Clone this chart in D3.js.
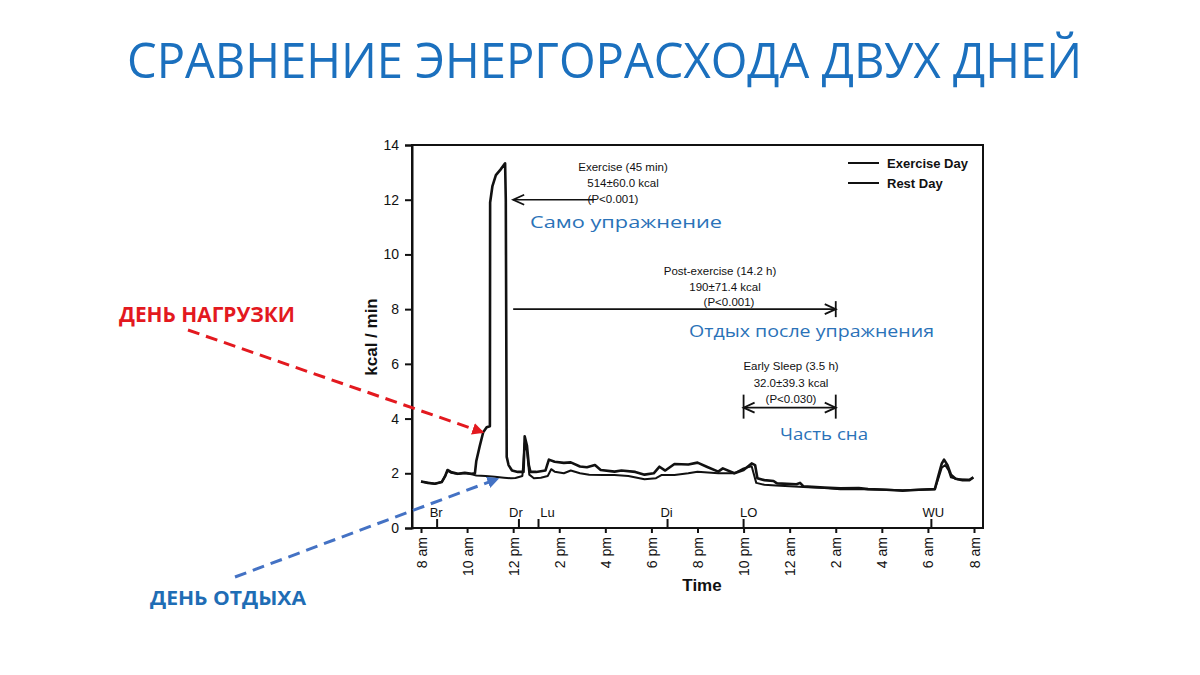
<!DOCTYPE html>
<html>
<head>
<meta charset="utf-8">
<script src="https://cdn.jsdelivr.net/npm/d3@7"></script>
<style>
  html, body { margin: 0; padding: 0; background: #ffffff; }
  svg { display: block; }
</style>
</head>
<body>
<svg id="chart" width="1200" height="675"></svg>
<script>
// ---------------- DATA ----------------
const titleText = "СРАВНЕНИЕ ЭНЕРГОРАСХОДА ДВУХ ДНЕЙ";
const yTicks = [0, 2, 4, 6, 8, 10, 12, 14];
const xTickHours = [0, 2, 4, 6, 8, 10, 12, 14, 16, 18, 20, 22, 24];
const xTickLabels = ["8 am", "10 am", "12 pm", "2 pm", "4 pm", "6 pm", "8 pm", "10 pm", "12 am", "2 am", "4 am", "6 am", "8 am"];
const yAxisTitle = "kcal / min";
const xAxisTitle = "Time";

// hours since 8 am
const exerciseHours = [0.0, 0.3, 0.6, 0.9, 1.05, 1.15, 1.3, 1.6, 1.9, 2.2, 2.34, 2.4, 2.55, 2.7, 2.85, 2.99,
  3.0, 3.1, 3.25, 3.45, 3.65, 3.68, 3.72, 3.8, 3.95, 4.2, 4.45, 4.5, 4.6, 4.68, 4.75, 5.0, 5.4, 5.55,
  5.8, 6.2, 6.5, 6.9, 7.2, 7.55, 7.8, 8.4, 8.7, 9.3, 9.7, 10.1, 10.35, 10.6, 11.0, 11.6, 12.0, 12.4,
  12.9, 13.1, 13.6, 14.0, 14.35, 14.5, 14.6, 14.9, 15.3, 15.45, 16.3, 16.45, 16.6, 17.5, 18.2, 19.0,
  19.4, 20.2, 20.9, 21.6, 22.3, 22.45, 22.6, 22.7, 22.85, 23.0, 23.2, 23.5, 23.8, 23.97];
const exerciseKcal = [1.70, 1.65, 1.62, 1.68, 1.90, 2.12, 2.05, 1.98, 2.02, 1.98, 2.00, 2.45, 3.00, 3.50, 3.68, 3.72,
  11.9, 12.5, 12.9, 13.1, 13.33, 12.0, 2.6, 2.3, 2.1, 2.05, 2.05, 3.35, 3.0, 2.3, 2.05, 2.05, 2.1, 2.5,
  2.42, 2.38, 2.40, 2.25, 2.22, 2.30, 2.12, 2.06, 2.10, 2.05, 1.95, 2.00, 2.24, 2.10, 2.34, 2.32, 2.39, 2.24,
  2.06, 2.18, 2.00, 2.12, 2.36, 2.30, 1.82, 1.75, 1.72, 1.63, 1.60, 1.65, 1.52, 1.48, 1.45, 1.46,
  1.42, 1.40, 1.36, 1.40, 1.42, 1.90, 2.35, 2.50, 2.30, 1.95, 1.80, 1.75, 1.75, 1.85];

const restHours = [0.0, 0.3, 0.6, 0.9, 1.05, 1.15, 1.3, 1.6, 1.9, 2.2, 2.4, 2.8, 3.2, 3.6, 3.9, 4.1, 4.4, 4.5,
  4.6, 4.7, 4.9, 5.2, 5.5, 5.65, 5.8, 6.2, 6.5, 6.9, 7.3, 7.9, 8.4, 9.0, 9.7, 10.2, 10.45, 11.0, 11.6,
  12.0, 12.9, 13.6, 14.0, 14.35, 14.55, 14.9, 15.4, 16.0, 16.6, 17.5, 18.2, 19.4, 20.9, 22.3, 22.45,
  22.6, 22.75, 22.9, 23.0, 23.3, 23.8, 23.97];
const restKcal = [1.70, 1.65, 1.62, 1.68, 1.90, 2.10, 2.02, 1.97, 2.00, 1.96, 1.92, 1.90, 1.87, 1.84, 1.82, 1.83, 1.90, 3.10,
  2.80, 1.95, 1.82, 1.84, 1.90, 2.15, 2.06, 2.00, 2.10, 2.00, 1.95, 1.94, 1.94, 1.90, 1.78, 1.82, 1.94, 1.94, 2.00,
  2.06, 2.00, 2.00, 2.18, 2.26, 1.65, 1.58, 1.55, 1.53, 1.50, 1.46, 1.42, 1.42, 1.38, 1.42, 1.80,
  2.20, 2.30, 2.10, 1.85, 1.78, 1.76, 1.85];

const seriesNames = ["Exercise Day", "Rest Day"];

const eventLabels = ["Br", "Dr", "Lu", "Di", "LO", "WU"];
const eventHours = [0.7, 4.25, 5.1, 10.7, 14.0, 22.15];

const annoLines = [
  ["Exercise (45 min)", "514±60.0 kcal", "(P<0.001)"],
  ["Post-exercise (14.2 h)", "190±71.4 kcal", "(P<0.001)"],
  ["Early Sleep (3.5 h)", "32.0±39.3 kcal", "(P<0.030)"]
];
const annoStartHour = [4.0, 4.0, 14.0];
const annoEndHour = [7.5, 18.0, 18.0];
const annoValue = [12, 8, 4.4];

const ruLabels = ["Само упражнение", "Отдых после упражнения", "Часть сна"];
const dayLabels = ["ДЕНЬ НАГРУЗКИ", "ДЕНЬ ОТДЫХА"];

// ---------------- DRAW ----------------
(function () {
const svg = d3.select("#chart");
const W = 1200, H = 675;
svg.append("rect").attr("width", W).attr("height", H).attr("fill", "#fff");

const pLeft = 412, pRight = 983, pTop = 145, pBottom = 528;
const x = d3.scaleLinear().domain([0, 24]).range([421, 974]);
const y = d3.scaleLinear().domain([0, 14]).range([pBottom, pTop]);

const chartFont = "'Liberation Sans', Arial, sans-serif";
const ruFont = "'Open Sans', 'Noto Sans', sans-serif";
const blue = "#2a72b8";

// defs
const defs = svg.append("defs");
function marker(id, color) {
  defs.append("marker").attr("id", id).attr("viewBox", "0 0 10 10")
    .attr("refX", 8).attr("refY", 5).attr("markerWidth", 4).attr("markerHeight", 4)
    .attr("orient", "auto-start-reverse").attr("markerUnits", "strokeWidth")
    .append("path").attr("d", "M0,0 L10,5 L0,10 Z").attr("fill", color);
}
marker("redHead", "#e3191f");
marker("blueHead", "#4472c4");

// Title
svg.append("text").attr("x", 127).attr("y", 78)
  .attr("font-family", ruFont).attr("font-size", 50).attr("fill", "#1b70be")
  .attr("textLength", 955).attr("lengthAdjust", "spacingAndGlyphs")
  .text(titleText);

// Frame
const g = svg.append("g");
g.append("rect").attr("x", pLeft).attr("y", pTop).attr("width", pRight - pLeft).attr("height", pBottom - pTop)
  .attr("fill", "none").attr("stroke", "#111").attr("stroke-width", 2);

// Y axis
const yAxis = d3.axisLeft(y).tickValues(yTicks).tickSize(7).tickPadding(6);
const yg = g.append("g").attr("transform", `translate(${pLeft},0)`).call(yAxis);
yg.select(".domain").attr("stroke", "#111").attr("stroke-width", 2);
yg.selectAll(".tick line").attr("stroke", "#111").attr("stroke-width", 2);
yg.selectAll(".tick text").attr("font-family", chartFont).attr("font-size", 14).attr("fill", "#111");

// X axis
const xAxis = d3.axisBottom(x).tickValues(xTickHours).tickSize(5).tickFormat((d, i) => xTickLabels[i]);
const xg = g.append("g").attr("transform", `translate(0,${pBottom})`).call(xAxis);
xg.select(".domain").remove();
xg.selectAll(".tick line").attr("stroke", "#111").attr("stroke-width", 2);
xg.selectAll(".tick text").attr("font-family", chartFont).attr("font-size", 14).attr("fill", "#111")
  .attr("text-anchor", "end").attr("dy", null).attr("y", 0)
  .attr("transform", "translate(5,9) rotate(-90)");

// Axis titles
g.append("text").attr("transform", `translate(377,337) rotate(-90)`)
  .attr("text-anchor", "middle").attr("font-family", chartFont).attr("font-weight", "bold")
  .attr("font-size", 17).attr("fill", "#111").text(yAxisTitle);
g.append("text").attr("x", 702).attr("y", 591).attr("text-anchor", "middle")
  .attr("font-family", chartFont).attr("font-weight", "bold").attr("font-size", 17)
  .attr("fill", "#111").text(xAxisTitle);

// Event markers
const evDx = { "Br": -1, "Dr": -3, "Lu": 9, "Di": -1, "LO": 5, "WU": 2 };
eventLabels.forEach((lab, i) => {
  const ex = x(eventHours[i]);
  g.append("line").attr("x1", ex).attr("x2", ex).attr("y1", pBottom).attr("y2", pBottom - 9)
    .attr("stroke", "#111").attr("stroke-width", 2);
  g.append("text").attr("x", ex + evDx[lab]).attr("y", pBottom - 11).attr("text-anchor", "middle")
    .attr("font-family", chartFont).attr("font-size", 13).attr("fill", "#111").text(lab);
});

// Lines
const line = d3.line().x(d => x(d[0])).y(d => y(d[1]));
const restData = restHours.map((h, i) => [h, restKcal[i]]);
const exData = exerciseHours.map((h, i) => [h, exerciseKcal[i]]);
g.append("path").datum(restData).attr("d", line).attr("fill", "none")
  .attr("stroke", "#111").attr("stroke-width", 2).attr("stroke-linejoin", "round");
g.append("path").datum(exData).attr("d", line).attr("fill", "none")
  .attr("stroke", "#111").attr("stroke-width", 2.6).attr("stroke-linejoin", "round");

// Legend
seriesNames.forEach((name, i) => {
  const ly = 163 + i * 20;
  g.append("line").attr("x1", 848).attr("x2", 879).attr("y1", ly).attr("y2", ly)
    .attr("stroke", "#111").attr("stroke-width", 2);
  g.append("text").attr("x", 887).attr("y", ly + 4.5).attr("font-family", chartFont)
    .attr("font-weight", "bold").attr("font-size", 13).attr("fill", "#111").text(name);
});

// Annotations (black)
function openHead(px, py, dir) {
  g.append("path").attr("d", `M${px - dir * 11},${py - 5} L${px},${py} L${px - dir * 11},${py + 5}`)
    .attr("fill", "none").attr("stroke", "#111").attr("stroke-width", 1.8);
}
function bar(px, py, h) {
  g.append("line").attr("x1", px).attr("x2", px).attr("y1", py - h).attr("y2", py + h)
    .attr("stroke", "#111").attr("stroke-width", 1.8);
}
const annoCenter = [623, 720, 791];
const annoBase = [171, 275, 370];
const annoStep = [16, 15.5, 16.5];
annoLines.forEach((lines, i) => {
  const x1 = x(annoStartHour[i]), x2 = x(annoEndHour[i]), ay = y(annoValue[i]);
  g.append("line").attr("x1", x1).attr("x2", x2).attr("y1", ay).attr("y2", ay)
    .attr("stroke", "#111").attr("stroke-width", 1.6);
  if (i === 0) { openHead(x1, ay, -1); }
  if (i === 1) { openHead(x2, ay, 1); bar(x2, ay, 8); }
  if (i === 2) { openHead(x1, ay, -1); openHead(x2, ay, 1); bar(x1, ay - 1, 12); bar(x2, ay - 1, 12); }
  lines.forEach((t, j) => {
    let cx = annoCenter[i];
    if (i === 0 && j === 2) cx = 613;
    if (i === 1 && j === 1) cx = 725;
    if (i === 1 && j === 2) cx = 729;
    g.append("text").attr("x", cx).attr("y", annoBase[i] + j * annoStep[i]).attr("text-anchor", "middle")
      .attr("font-family", chartFont).attr("font-size", 11.5).attr("fill", "#111").text(t);
  });
});

// Russian blue annotations
const ruX = [530, 689, 780];
const ruY = [228, 337, 440];
const ruLen = [192, 245, 88];
ruLabels.forEach((t, i) => {
  svg.append("text").attr("x", ruX[i]).attr("y", ruY[i]).attr("font-family", ruFont)
    .attr("font-size", 16.5).attr("fill", blue)
    .attr("textLength", ruLen[i]).attr("lengthAdjust", "spacingAndGlyphs").text(t);
});

// Day labels with dashed arrows
svg.append("text").attr("x", 119).attr("y", 322).attr("font-family", ruFont).attr("font-weight", "bold")
  .attr("font-size", 22).attr("fill", "#e3191f").attr("textLength", 176).attr("lengthAdjust", "spacingAndGlyphs")
  .text(dayLabels[0]);
svg.append("text").attr("x", 150).attr("y", 605).attr("font-family", ruFont).attr("font-weight", "bold")
  .attr("font-size", 20).attr("fill", "#1f6db5").attr("textLength", 156).attr("lengthAdjust", "spacingAndGlyphs")
  .text(dayLabels[1]);

svg.append("line").attr("x1", 188).attr("y1", 330).attr("x2", 482).attr("y2", 432)
  .attr("stroke", "#e3191f").attr("stroke-width", 3).attr("stroke-dasharray", "12,7")
  .attr("marker-end", "url(#redHead)");
svg.append("line").attr("x1", 235).attr("y1", 577).attr("x2", 497).attr("y2", 479)
  .attr("stroke", "#4472c4").attr("stroke-width", 3).attr("stroke-dasharray", "12,7")
  .attr("marker-end", "url(#blueHead)");
})();
</script>
</body>
</html>
